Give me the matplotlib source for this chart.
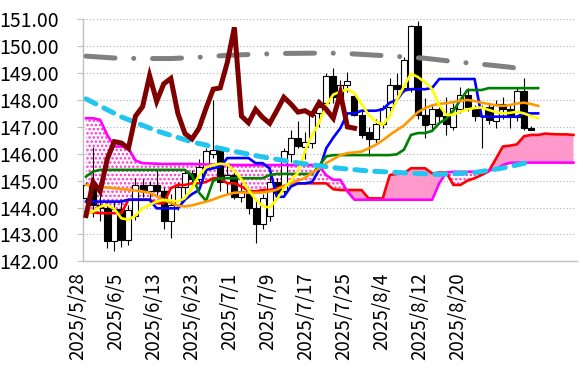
import matplotlib.pyplot as plt
import matplotlib.transforms as mtransforms
import numpy as np

plt.rcParams['font.family'] = ['Noto Sans CJK JP', 'DejaVu Sans']
plt.rcParams['hatch.linewidth'] = 1.2

# date labels (every 6th business day)
date_labels = ['2025/5/28', '2025/6/5', '2025/6/13', '2025/6/23', '2025/7/1', '2025/7/9',
               '2025/7/17', '2025/7/25', '2025/8/4', '2025/8/12', '2025/8/20']

# daily candles 2025/5/28 - 2025/8/25
opens = [144.35, 144.85, 144.10, 144.00, 142.75, 143.95, 142.80, 143.70, 144.85, 144.60,
         144.85, 144.60, 143.50, 144.10, 144.75, 145.30, 145.05, 145.45, 146.00, 146.15,
         144.95, 145.20, 144.40, 144.60, 144.00, 143.40, 143.70, 144.95, 144.60, 146.00,
         146.60, 146.25, 146.40, 147.50, 147.90, 148.90, 148.10, 148.55, 148.15, 147.45,
         146.80, 146.55, 147.10, 147.75, 148.55, 148.45, 148.45, 150.75, 147.45, 147.10,
         147.65, 147.40, 147.00, 147.65, 148.20, 147.65, 147.40, 147.75, 147.20, 147.85,
         147.65, 147.35, 148.35, 146.95]
closes = [144.85, 144.10, 144.00, 142.75, 143.95, 142.80, 143.90, 144.85, 144.60, 144.85,
          144.60, 143.50, 144.10, 144.75, 145.30, 145.05, 145.50, 146.10, 146.15, 144.95,
          145.20, 144.40, 144.60, 144.00, 143.40, 144.35, 144.95, 144.55, 146.10, 146.60,
          146.30, 146.45, 147.45, 147.75, 148.90, 148.10, 148.55, 148.70, 147.45, 146.70,
          146.55, 147.10, 147.70, 148.55, 148.40, 149.50, 150.75, 147.45, 147.07, 147.65,
          147.40, 147.10, 147.70, 148.20, 147.75, 147.40, 147.70, 147.25, 147.85, 147.65,
          147.35, 148.35, 146.95, 146.90]
highs = [144.95, 146.26, 144.60, 144.20, 144.20, 144.30, 144.10, 145.10, 145.05, 145.00,
         145.45, 144.75, 144.50, 144.95, 145.45, 145.40, 145.80, 146.20, 148.00, 146.20,
         145.60, 145.40, 144.90, 144.70, 144.30, 144.50, 145.20, 145.10, 146.20, 146.90,
         147.20, 146.80, 147.50, 147.90, 149.00, 149.20, 148.75, 149.05, 148.20, 147.60,
         147.00, 147.30, 147.80, 148.80, 149.00, 149.60, 150.80, 150.92, 148.06, 147.80,
         147.80, 148.10, 147.90, 148.50, 148.45, 147.80, 147.80, 147.90, 148.00, 148.10,
         147.85, 148.45, 148.80, 147.05]
lows = [144.20, 143.66, 143.50, 142.50, 142.40, 142.55, 142.60, 143.55, 144.40, 144.20,
        144.40, 143.20, 142.85, 143.90, 144.50, 144.80, 144.95, 145.30, 145.85, 144.60,
        144.50, 144.30, 144.20, 143.75, 142.68, 143.20, 143.50, 144.30, 144.50, 145.70,
        146.20, 145.80, 146.20, 147.00, 147.50, 147.90, 147.90, 148.30, 147.40, 146.60,
        145.90, 146.40, 146.95, 147.60, 148.20, 148.30, 148.30, 147.30, 146.60, 146.90,
        147.10, 146.70, 146.90, 147.50, 147.60, 147.20, 146.20, 147.10, 146.95, 147.30,
        146.95, 147.20, 146.90, 146.88]

# ichimoku lines
tenkan = [144.22, 144.22, 144.22, 144.22, 144.22, 144.22, 144.29, 144.29, 144.29, 144.29,
          143.97, 143.97, 143.97, 143.97, 144.29, 144.50, 144.65, 145.40, 145.46, 145.52,
          145.84, 145.84, 145.84, 145.84, 145.65, 145.65, 145.45, 144.40, 144.40, 144.78,
          144.90, 144.90, 144.95, 145.40, 146.20, 146.60, 146.95, 147.50, 147.50, 147.60,
          147.60, 147.60, 147.65, 147.90, 148.00, 148.35, 148.40, 148.40, 148.40, 148.45,
          148.78, 148.78, 148.78, 148.78, 148.78, 148.78, 147.38, 147.38, 147.38, 147.38,
          147.38, 147.38, 147.50, 147.50, 147.50]
kijun = [145.15, 145.34, 145.40, 145.40, 145.40, 145.40, 145.40, 145.40, 145.40, 145.40,
         145.40, 145.40, 145.40, 145.40, 145.40, 145.20, 144.55, 144.25, 145.00, 145.09,
         145.09, 145.09, 145.09, 145.09, 145.09, 145.09, 145.21, 145.25, 145.25, 145.25,
         145.25, 145.25, 145.25, 145.55, 145.90, 145.95, 145.95, 145.95, 145.95, 145.95,
         145.95, 145.95, 145.95, 145.95, 145.98, 146.15, 146.70, 146.77, 146.77, 146.85,
         147.14, 147.30, 147.60, 148.00, 148.37, 148.37, 148.37, 148.44, 148.44, 148.44,
         148.44, 148.44, 148.44, 148.44, 148.44]
senkou_a = [143.85, 143.82, 143.79, 143.79, 143.79, 143.79, 144.29, 144.29, 144.29, 144.29,
            144.16, 144.16, 144.72, 144.84, 144.84, 144.90, 144.90, 144.95, 145.09, 145.09,
            144.90, 144.90, 144.78, 144.62, 144.60, 144.65, 144.65, 144.72, 144.80, 144.90,
            144.90, 144.90, 144.90, 144.90, 144.90, 144.68, 144.65, 144.65, 144.65, 144.65,
            144.34, 144.34, 144.34, 145.21, 145.25, 145.27, 145.46, 145.46, 145.46, 145.27,
            145.30, 145.30, 144.84, 144.84, 145.00, 145.09, 145.21, 145.35, 145.80, 146.27,
            146.30, 146.35, 146.65, 146.70, 146.70, 146.75, 146.73, 146.72, 146.72, 146.70]
senkou_b = [147.32, 147.32, 147.26, 146.70, 146.27, 146.27, 146.20, 145.75, 145.65, 145.64,
            145.63, 145.62, 145.62, 145.62, 145.62, 145.62, 145.61, 145.60, 145.60, 145.60,
            145.59, 145.58, 145.58, 145.58, 145.58, 145.58, 145.58, 145.58, 145.58, 145.58,
            145.58, 145.58, 145.58, 145.55, 145.20, 145.03, 145.03, 144.60, 144.29, 144.29,
            144.29, 144.29, 144.29, 144.29, 144.29, 144.29, 144.29, 144.29, 144.29, 144.29,
            144.90, 145.30, 145.33, 145.33, 145.33, 145.33, 145.33, 145.38, 145.42, 145.58,
            145.66, 145.67, 145.67, 145.67, 145.67, 145.67, 145.67, 145.67, 145.67, 145.67]
chikou = [143.70, 144.95, 144.60, 145.80, 146.45, 146.40, 146.20, 147.40, 147.75, 148.90,
          147.95, 148.60, 148.80, 147.50, 146.75, 146.55, 146.95, 147.70, 148.40, 148.45,
          149.40, 150.70, 147.40, 147.15, 147.65, 147.35, 147.13, 147.60, 148.10, 147.85,
          147.55, 147.60, 147.45, 147.90, 147.65, 147.32, 148.25, 147.00, 146.95]

# moving averages
ma_short = [143.79, 143.85, 144.03, 144.10, 143.95, 143.60, 143.55, 143.70, 143.97, 144.10,
            144.22, 144.28, 144.27, 144.22, 144.35, 144.72, 145.20, 145.50, 145.58, 145.63,
            145.60, 145.35, 145.05, 144.65, 144.30, 144.05, 144.00, 144.30, 144.70, 145.00,
            145.30, 146.10, 146.70, 147.15, 147.80, 148.20, 148.31, 148.40, 148.25, 147.85,
            147.45, 147.20, 147.08, 147.40, 148.00, 148.50, 148.98, 148.85, 148.65, 148.40,
            147.80, 147.44, 147.45, 147.57, 147.65, 147.70, 147.72, 147.63, 147.55, 147.50,
            147.52, 147.56, 147.50, 147.40, 147.32]
ma_mid = [144.84, 144.82, 144.78, 144.74, 144.72, 144.69, 144.66, 144.63, 144.60, 144.55,
          144.42, 144.28, 144.17, 144.07, 144.04, 144.08, 144.15, 144.22, 144.30, 144.40,
          144.48, 144.55, 144.56, 144.55, 144.55, 144.56, 144.60, 144.66, 144.80, 144.90,
          145.00, 145.10, 145.30, 145.45, 145.65, 145.80, 145.95, 146.02, 146.05, 146.08,
          146.20, 146.33, 146.50, 146.70, 146.88, 147.05, 147.30, 147.55, 147.70, 147.80,
          147.86, 147.88, 147.92, 147.97, 148.00, 147.96, 147.90, 147.85, 147.80, 147.78,
          147.81, 147.87, 147.90, 147.85, 147.78]
ma_long_idx = [0, 5, 10, 15, 20, 25, 30, 35, 40, 45, 50, 55, 59, 63]
ma_long = [148.04, 147.37, 146.85, 146.44, 146.14, 145.88, 145.66, 145.48, 145.36, 145.29,
           145.23, 145.30, 145.47, 145.70]
ma_200_idx = [0, 4, 8, 12, 16, 20, 24, 28, 32, 36, 40, 44, 48, 52, 56, 60, 62]
ma_200 = [149.63, 149.56, 149.54, 149.54, 149.59, 149.66, 149.70, 149.73, 149.74, 149.74,
          149.68, 149.62, 149.55, 149.43, 149.33, 149.22, 149.14]

n_slots = 70          # category slots of the price axis
n_label_slots = 78    # category slots of the date axis

fig = plt.figure(figsize=(5.83, 3.81), dpi=100)
ax = fig.add_axes([82.5 / 583, 1 - 261.3 / 381, (577 - 82.5) / 583, (261.3 - 19.3) / 381])

# cloud
xc = np.arange(len(senkou_a))
sa, sb = np.array(senkou_a), np.array(senkou_b)
ax.fill_between(xc, sa, sb, where=sa >= sb, interpolate=True, facecolor='#ff99cc',
                linewidth=0, zorder=1)
ax.fill_between(xc, sa, sb, where=sb > sa, interpolate=True, facecolor='white',
                edgecolor='#ff33cc', hatch='....', linewidth=0, zorder=1)

# candles
xk = np.arange(len(opens))
o, c = np.array(opens), np.array(closes)
ax.vlines(xk, lows, highs, color='black', linewidth=0.8, zorder=2)
body_low = np.minimum(o, c)
body_h = np.maximum(np.abs(c - o), 0.03)
up = c >= o
ax.bar(xk[up], body_h[up], bottom=body_low[up], width=0.85, color='white',
       edgecolor='black', linewidth=0.8, zorder=3)
ax.bar(xk[~up], body_h[~up], bottom=body_low[~up], width=0.85, color='black',
       edgecolor='black', linewidth=0.8, zorder=3)

# lines
ax.plot(xc, senkou_a, color='#ff0000', lw=1.9, zorder=4)
ax.plot(xc, senkou_b, color='#ff00ff', lw=1.9, zorder=4)
xl = np.arange(len(tenkan))
ax.plot(xl, tenkan, color='#0000ff', lw=1.9, zorder=5)
ax.plot(xl, kijun, color='#008000', lw=1.9, zorder=5)
ax.plot(xl, ma_mid, color='#ff9900', lw=1.9, zorder=5)
ax.plot(xl, ma_short, color='#ffff00', lw=1.9, zorder=5)
ax.plot(ma_long_idx, ma_long, color='#22c4f0', lw=3.6, zorder=6,
        linestyle=(0, (2.2, 1.8)), dash_capstyle='round')
ax.plot(ma_200_idx, ma_200, color='#808080', lw=3.6, zorder=6,
        linestyle=(0, (5.8, 3.75, 0.01, 3.75)), dash_capstyle='round', solid_capstyle='round')
ax.plot(np.arange(len(chikou)), chikou, color='#800000', lw=3.6, zorder=7,
        solid_joinstyle='miter')

ax.set_xlim(-0.5, n_slots - 0.5)
ax.set_ylim(142, 151)
ax.set_yticks(np.arange(142, 151.5, 1))
ax.yaxis.set_major_formatter(plt.FormatStrFormatter('%.2f'))
ax.tick_params(axis='y', length=4.3, width=0.8, color='#bfbfbf', pad=13, labelsize=14)
ax.set_xticks([])
ax.grid(axis='y', color='#b0b0b0', linestyle=(0, (1, 2)), linewidth=0.8)
ax.set_axisbelow(True)
for s in ['top', 'right']:
    ax.spines[s].set_visible(False)
for s in ['left', 'bottom']:
    ax.spines[s].set_color('#bfbfbf')
    ax.spines[s].set_linewidth(1.0)

# date axis
ax2 = ax.twiny()
ax2.set_xlim(-0.5, n_label_slots - 0.5)
ax2.set_xticks(np.arange(len(date_labels)) * 6)
ax2.set_xticklabels(date_labels, rotation=90, fontsize=13.5)
ax2.xaxis.set_ticks_position('bottom')
ax2.tick_params(axis='x', length=0, pad=8)
for s in ax2.spines.values():
    s.set_visible(False)
shift = mtransforms.ScaledTranslation(-8 / 100, 0, fig.dpi_scale_trans)
for lab in ax2.get_xticklabels():
    lab.set_transform(lab.get_transform() + shift)

fig.savefig('out.png', dpi=100)
